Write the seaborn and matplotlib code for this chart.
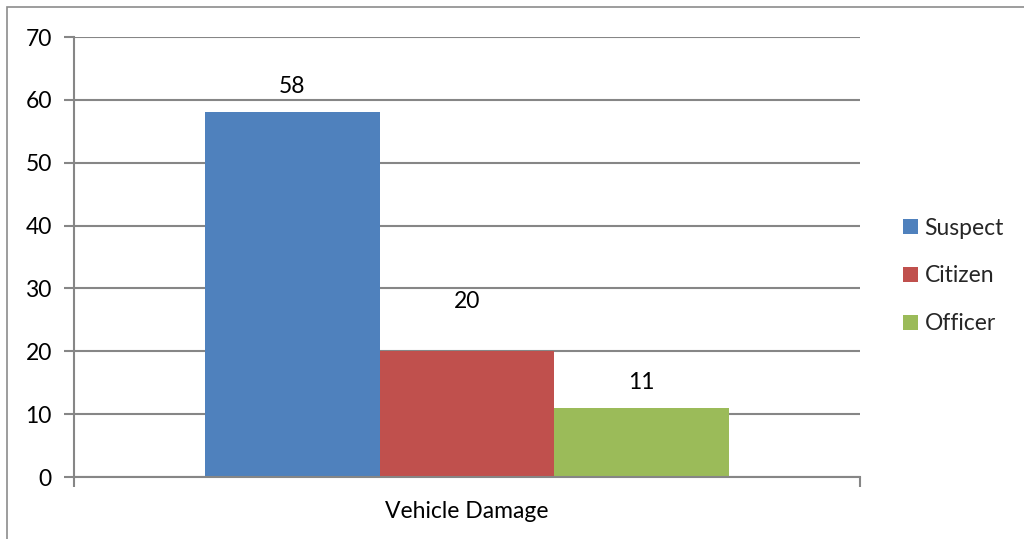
import matplotlib
matplotlib.use("Agg")
import matplotlib.pyplot as plt
import matplotlib.patches as mpatches
import seaborn as sns
import pandas as pd

categories = ["Vehicle Damage"]
series = ["Suspect", "Citizen", "Officer"]
suspect = [58]
citizen = [20]
officer = [11]
yticks = [0, 10, 20, 30, 40, 50, 60, 70]

colors = ["#4F81BD", "#C0504D", "#9BBB59"]
label_offsets_pt = [19, 36, 18]
FS = 16.5

sns.set_theme(style="white")
plt.rcParams["font.family"] = ["Lato", "DejaVu Sans"]

rows = []
for s, vals in zip(series, [suspect, citizen, officer]):
    for c, v in zip(categories, vals):
        rows.append({"category": c, "series": s, "value": v})
df = pd.DataFrame(rows)

fig = plt.figure(figsize=(10.24, 5.39), dpi=100)
ax = fig.add_axes([74/1024, 62/539, 786/1024, 440/539])

sns.barplot(data=df, x="category", y="value", hue="series", hue_order=series,
            palette=colors, width=0.667, gap=0, saturation=1, ax=ax,
            edgecolor="none", linewidth=0)

grey = "#868686"
ax.set_xlim(-0.5, 0.5)
ax.set_ylim(0, 70)
ax.set_yticks(yticks)
ax.set_yticklabels([str(t) for t in yticks], fontsize=FS, color="black")
ax.yaxis.grid(True, color=grey, linewidth=1.5)
ax.set_axisbelow(True)
ax.set_xlabel("")
ax.set_ylabel("")
ax.tick_params(axis="y", length=7, width=1.5, color=grey, pad=9, left=True)
ax.set_xticks([0])
ax.set_xticklabels(categories, fontsize=FS, color="black")
ax.tick_params(axis="x", which="major", length=0, pad=17)
ax.set_xticks([-0.5, 0.5], minor=True)
ax.tick_params(axis="x", which="minor", length=7, width=1.5, color=grey, bottom=True)
for side in ["top", "right"]:
    ax.spines[side].set_visible(False)
for side in ["left", "bottom"]:
    ax.spines[side].set_color(grey)
    ax.spines[side].set_linewidth(1.5)

for container, off in zip(ax.containers, label_offsets_pt):
    for bar in container:
        h = bar.get_height()
        ax.annotate(f"{h:.0f}", (bar.get_x() + bar.get_width()/2, h),
                    xytext=(0, off), textcoords="offset points",
                    ha="center", va="center", fontsize=FS, color="black")

handles = [mpatches.Patch(facecolor=c, edgecolor="none") for c in colors]
ax.legend(handles, series, loc="center left",
          bbox_to_anchor=(903/1024, 1 - 276/539), bbox_transform=fig.transFigure,
          frameon=False, fontsize=FS, borderpad=0, borderaxespad=0,
          handlelength=0.66, handleheight=0.66, handletextpad=0.28,
          labelspacing=1.17)

border = mpatches.Rectangle((7/1024, -0.2), 2.0, (539-7)/539 + 0.2,
                            transform=fig.transFigure, fill=False,
                            edgecolor="#8c8c8c", linewidth=1.2)
fig.patches.append(border)

fig.savefig("out.png", dpi=100)
